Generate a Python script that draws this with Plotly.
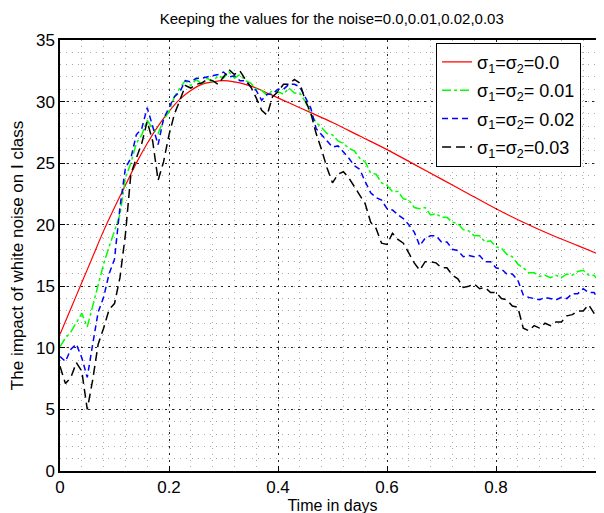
import plotly.graph_objects as go

# ---- data ----
t_red = [0.00, 0.02, 0.04, 0.06, 0.08, 0.10, 0.12, 0.14, 0.16, 0.18, 0.20, 0.22, 0.24,
         0.26, 0.28, 0.30, 0.32, 0.34, 0.36, 0.38, 0.40, 0.42, 0.44, 0.46, 0.50, 0.55,
         0.60, 0.65, 0.70, 0.75, 0.80, 0.85, 0.90, 0.95, 1.00]
v_red = [11.1, 13.2, 15.3, 17.4, 19.5, 21.4, 23.2, 25.0, 26.6, 28.0, 29.2, 30.2, 30.9,
         31.4, 31.6, 31.7, 31.6, 31.4, 31.1, 30.7, 30.3, 29.9, 29.5, 29.1, 28.3, 27.2,
         26.1, 24.9, 23.7, 22.5, 21.3, 20.2, 19.2, 18.3, 17.4]

t_noise = [round(i * 0.01, 2) for i in range(101)]

v_green = [10.1, 10.8, 11.3, 12.1, 12.8, 11.7, 13.4, 15.0, 16.8, 18.2,
           19.5, 20.8, 23.8, 25.0, 26.6, 27.3, 28.5, 27.8, 27.4, 28.5,
           29.2, 30.4, 31.1, 31.7, 31.3, 31.8, 31.4, 31.9, 31.6, 32.1,
           31.9, 32.4, 31.9, 32.2, 31.7, 31.5, 31.0, 30.9, 30.5, 30.9,
           30.8, 30.6, 31.1, 30.7, 30.7, 30.0, 29.0, 28.3, 27.9, 27.4,
           27.3, 26.8, 26.6, 26.2, 26.0, 25.4, 25.1, 24.2, 24.1, 23.4,
           23.2, 22.7, 22.7, 22.1, 22.0, 21.4, 21.3, 21.4, 20.8, 20.9,
           20.6, 20.6, 20.2, 20.1, 19.6, 19.5, 19.1, 19.1, 18.6, 18.7,
           18.2, 18.1, 17.6, 17.4, 16.8, 16.5, 16.1, 16.1, 15.8, 15.9,
           15.7, 15.9, 15.7, 16.0, 15.9, 16.2, 16.3, 15.9, 15.9, 15.3,
           14.9]

v_blue = [9.3, 8.9, 9.9, 10.3, 9.2, 7.6, 10.3, 12.9, 14.1, 16.0,
          17.2, 21.4, 24.6, 25.4, 27.3, 27.8, 29.5, 27.9, 26.5, 28.6,
          29.5, 30.4, 30.8, 31.7, 31.6, 31.9, 31.9, 32.0, 32.1, 32.2,
          32.4, 32.0, 32.1, 31.7, 31.7, 31.2, 30.9, 30.1, 30.6, 30.6,
          31.0, 31.0, 31.4, 31.4, 31.2, 30.3, 29.5, 27.8, 27.3, 26.8,
          26.3, 26.4, 25.9, 25.4, 24.8, 24.5, 23.5, 22.6, 22.2, 22.0,
          21.3, 21.2, 20.8, 20.5, 20.0, 19.4, 18.3, 18.9, 19.1, 19.1,
          18.6, 18.6, 18.0, 17.9, 17.4, 17.5, 17.4, 17.5, 17.0, 17.0,
          16.5, 16.4, 16.0, 16.0, 15.5, 14.3, 14.1, 14.0, 13.9, 14.1,
          14.0, 13.9, 14.1, 14.0, 14.4, 14.4, 14.8, 14.5, 14.5, 13.7,
          13.2]

v_black = [8.5, 7.1, 7.6, 8.8, 8.1, 5.0, 7.4, 10.3, 11.6, 13.1,
           13.6, 15.7, 19.2, 24.1, 25.4, 26.6, 28.4, 26.8, 23.6, 25.1,
           27.3, 29.0, 30.1, 31.3, 31.1, 31.4, 31.5, 31.8, 31.7, 31.4,
           32.0, 32.6, 32.2, 32.5, 31.8, 31.2, 30.3, 29.3, 28.9, 30.4,
           30.8, 31.4, 31.4, 31.8, 31.5, 30.1, 29.1, 27.4, 26.1, 24.6,
           23.4, 24.1, 24.3, 23.8, 23.1, 22.4, 21.7, 20.2, 19.7, 18.5,
           18.4, 19.3, 18.8, 18.5, 17.7, 16.9, 16.3, 17.0, 17.0, 16.9,
           16.5, 16.5, 15.9, 15.6, 14.9, 15.0, 15.2, 14.8, 14.9, 14.5,
           14.5, 14.0, 13.9, 13.4, 13.3, 11.6, 11.4, 11.8, 11.6, 12.0,
           11.8, 12.1, 12.1, 12.6, 12.7, 13.0, 13.0, 13.5, 12.8, 12.0,
           11.3]

names = ["σ<sub>1</sub>=σ<sub>2</sub>=0.0",
         "σ<sub>1</sub>=σ<sub>2</sub>= 0.01",
         "σ<sub>1</sub>=σ<sub>2</sub>= 0.02",
         "σ<sub>1</sub>=σ<sub>2</sub>=0.03"]

x_ticks = [0, 0.2, 0.4, 0.6, 0.8, 1]
x_ticktext = ["0", "0.2", "0.4", "0.6", "0.8", "1"]
y_ticks = [0, 5, 10, 15, 20, 25, 30, 35]

FONT = "Liberation Sans, Arial, Helvetica, sans-serif"

fig = go.Figure()
fig.add_trace(go.Scatter(x=t_red, y=v_red, mode="lines", name=names[0], legendgroup="a",
                         line=dict(color="#ff0000", width=1.2, shape="spline")))
fig.add_trace(go.Scatter(x=t_noise, y=v_green, mode="lines", name=names[1], legendgroup="b",
                         line=dict(color="#00ff00", width=1.5, dash="dashdot")))
fig.add_trace(go.Scatter(x=t_noise, y=v_blue, mode="lines", name=names[2], legendgroup="c",
                         line=dict(color="#0000ff", width=1.5, dash="6px,4px")))
fig.add_trace(go.Scatter(x=t_noise, y=v_black, mode="lines", name=names[3], legendgroup="d",
                         line=dict(color="#000000", width=1.5, dash="9px,5px")))

fig.update_layout(
    width=604, height=513,
    margin=dict(l=52, r=7, t=32, b=50),
    paper_bgcolor="white", plot_bgcolor="white",
    font=dict(family=FONT, size=17, color="black"),
    title=dict(text="Keeping the values for the noise=0.0,0.01,0.02,0.03",
               x=0.536, xanchor="center", y=0.98, yanchor="middle",
               font=dict(size=15, family=FONT, color="black")),
    showlegend=True,
    legend=dict(x=0.69, y=0.994, xanchor="left", yanchor="top",
                bgcolor="white", bordercolor="black", borderwidth=1,
                tracegroupgap=2,
                font=dict(size=18, family=FONT, color="black")),
)

fig.update_xaxes(
    range=[0, 1], tickvals=x_ticks, ticktext=x_ticktext,
    ticks="inside", ticklen=5, tickcolor="black",
    showline=True, linecolor="black", linewidth=1.5, mirror=True,
    showgrid=True, gridcolor="#222222", gridwidth=1, griddash="2px,5px",
    minor=dict(dtick=0.04, showgrid=True, gridcolor="#aaaaaa", griddash="1px,5px", ticks=""),
    zeroline=False, automargin=False,
    title=dict(text="Time in days", font=dict(size=16, family=FONT), standoff=0),
    tickfont=dict(size=17, family=FONT),
)
fig.update_yaxes(
    range=[0, 35], tickvals=y_ticks,
    ticks="inside", ticklen=5, tickcolor="black",
    showline=True, linecolor="black", linewidth=1.5, mirror="ticks",
    showgrid=True, gridcolor="#222222", gridwidth=1, griddash="2px,5px",
    minor=dict(dtick=1, showgrid=True, gridcolor="#aaaaaa", griddash="1px,5px", ticks=""),
    zeroline=False, automargin=False,
    title=dict(text="The impact of white noise on I class", font=dict(size=17, family=FONT), standoff=12),
    tickfont=dict(size=17, family=FONT),
)

fig.write_html("out.html")
